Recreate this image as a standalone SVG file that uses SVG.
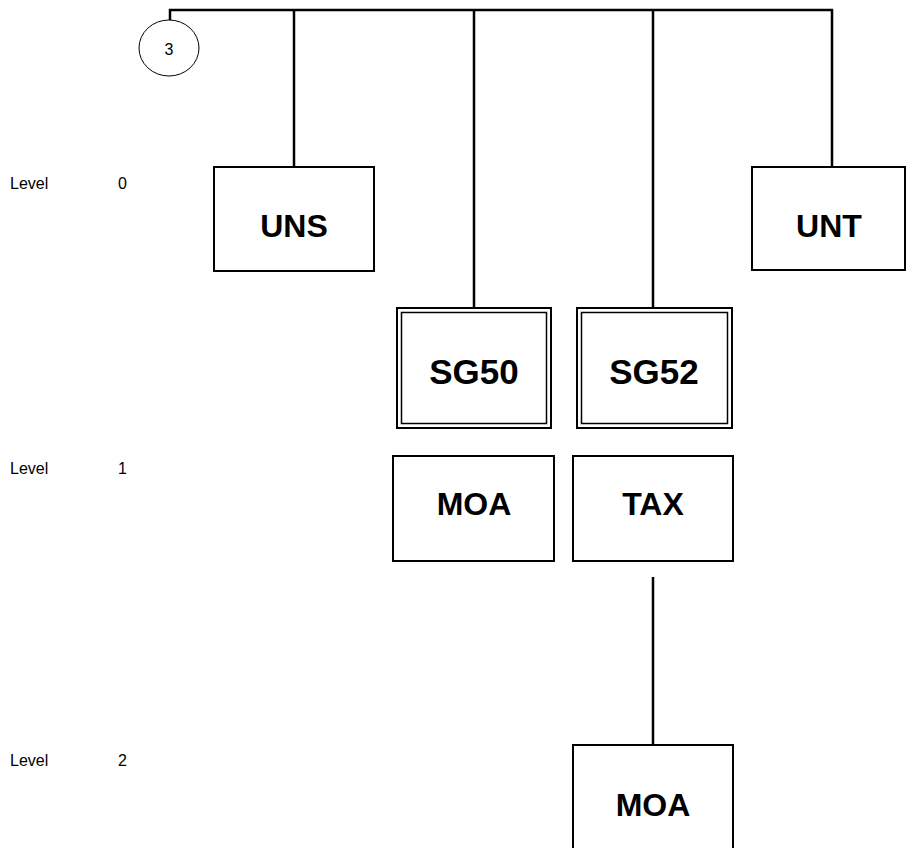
<svg xmlns="http://www.w3.org/2000/svg" width="907" height="848" viewBox="0 0 907 848">
<style>
.box{fill:#fff;stroke:#000;stroke-width:2}
.thin{fill:none;stroke:#000;stroke-width:1.5}
.lbl{font-family:"Liberation Sans",Arial,sans-serif;font-weight:bold;font-size:32px;text-anchor:middle;fill:#000}
.sg{font-size:35px}
.lvl{font-family:"Liberation Sans",Arial,sans-serif;font-size:16px;fill:#000}
.conn{stroke:#000;stroke-width:2.5;fill:none}
</style>
<rect width="907" height="848" fill="#fff"/>
<g id="connectors">
<polyline class="conn" points="170,21 170,10 832,10 832,167"/>
<line class="conn" x1="294" y1="10" x2="294" y2="167"/>
<line class="conn" x1="474" y1="10" x2="474" y2="308"/>
<line class="conn" x1="653" y1="10" x2="653" y2="308"/>
<line class="conn" x1="653" y1="577" x2="653" y2="745"/>
</g>
<g id="levels">
<text class="lvl" x="10" y="189">Level</text><text class="lvl" x="118" y="189">0</text>
<text class="lvl" x="10" y="474">Level</text><text class="lvl" x="118" y="474">1</text>
<text class="lvl" x="10" y="766">Level</text><text class="lvl" x="118" y="766">2</text>
</g>
<g id="n3"><ellipse cx="169" cy="48" rx="30" ry="28" fill="#fff" stroke="#000" stroke-width="1"/><text x="169" y="55" style="font-family:'Liberation Sans',Arial,sans-serif;font-size:16px;text-anchor:middle">3</text></g>
<g id="UNS"><rect class="box" x="214" y="167" width="160" height="104"/><text class="lbl" x="294" y="237">UNS</text></g>
<g id="UNT"><rect class="box" x="752" y="167" width="153" height="103"/><text class="lbl" x="829" y="237">UNT</text></g>
<g id="SG50"><rect class="box" x="397" y="308" width="154" height="120"/><rect class="thin" x="401.5" y="312.5" width="145" height="111"/><text class="lbl sg" x="474" y="384">SG50</text></g>
<g id="SG52"><rect class="box" x="577" y="308" width="155" height="120"/><rect class="thin" x="581.5" y="312.5" width="146" height="111"/><text class="lbl sg" x="654" y="384">SG52</text></g>
<g id="MOA1"><rect class="box" x="393" y="456" width="161" height="105"/><text class="lbl" x="474" y="515">MOA</text></g>
<g id="TAX"><rect class="box" x="573" y="456" width="160" height="105"/><text class="lbl" x="653" y="515">TAX</text></g>
<g id="MOA2"><rect class="box" x="573" y="745" width="160" height="110"/><text class="lbl" x="653" y="816">MOA</text></g>
</svg>
